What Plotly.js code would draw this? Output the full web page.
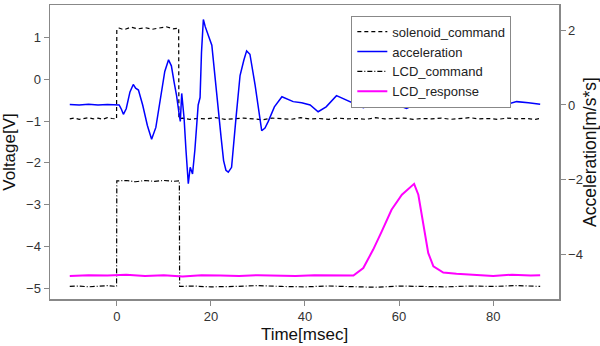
<!DOCTYPE html>
<html>
<head>
<meta charset="utf-8">
<script src="https://cdn.plot.ly/plotly-3.0.1.min.js"></script>
<style>html,body{margin:0;padding:0;background:#fff}#chart{width:600px;height:346px}</style>
</head>
<body>
<div id="chart"></div>
<script>
// solenoid_command (Voltage [V])
var solT = [-10,-9,-8,-7,-6,-5,-4,-3,-2,-1,-0.05,0,0.5,1.5,3,4.5,6,7.5,9,10.5,12,13.15,13.2,14,15.5,17,19,21,23,25,27,29,31,33,35,37,39,41,43,45,47,49,51,53,55,57,59,61,63,65,67,69,71,73,75,77,79,81,83,85,87,89,90];
var solV = [-0.95,-0.93,-0.96,-0.94,-0.92,-0.95,-0.93,-0.96,-0.92,-0.94,-0.95,1.2,1.22,1.18,1.24,1.2,1.23,1.19,1.22,1.25,1.2,1.22,-0.95,-0.93,-0.96,-0.94,-0.95,-0.92,-0.96,-0.94,-0.93,-0.95,-0.97,-0.93,-0.94,-0.96,-0.92,-0.95,-0.94,-0.96,-0.93,-0.95,-0.94,-0.96,-0.92,-0.95,-0.94,-0.93,-0.96,-0.94,-0.95,-0.93,-0.96,-0.94,-0.92,-0.95,-0.94,-0.96,-0.93,-0.95,-0.94,-0.96,-0.94];

// acceleration (m/s*s)
var accT = [-10,-8,-6,-4,-2,-1,0.5,1.0,1.4,2.0,2.8,3.5,4.0,4.6,5.5,6.5,7.4,8.3,9.2,10.2,11.0,11.6,12.2,12.7,13.2,13.5,13.8,14.3,14.7,15.2,15.6,16.1,16.6,17.3,17.7,18.0,18.4,18.8,19.5,20.2,21.2,21.6,22.2,22.7,23.2,23.7,24.4,25.3,26.2,27.0,27.6,28.3,29.4,30.8,31.5,32.2,33.5,35.1,36.3,37.5,39.3,41.1,42.8,44.5,46.7,49.5,52.4,55.6,58.5,61.6,64.0,66.6,68.7,70.8,73.3,75.8,78.3,80.7,83.0,85.0,87.5,90];
var accV = [0.01,0.0,0.02,0.0,0.01,0.0,0.0,-0.12,-0.25,-0.1,0.35,0.55,0.45,0.4,0.0,-0.55,-0.92,-0.6,0.15,0.9,1.21,1.05,0.6,0.26,-0.2,-0.44,0.31,-0.35,-1.2,-2.11,-1.67,-1.85,-1.2,0.0,0.2,1.4,2.29,2.1,1.85,1.6,0.35,-0.09,-0.9,-1.49,-1.75,-1.8,-1.67,-0.4,0.79,1.2,1.45,1.36,0.53,-0.69,-0.62,-0.44,-0.05,0.22,0.15,0.09,0.06,0.0,-0.18,-0.05,0.25,0.1,-0.07,0.09,0.05,-0.09,0.05,0.13,0.05,-0.04,0.02,0.09,0.04,-0.06,0.02,0.09,0.06,0.02];

// LCD_command (Voltage [V])
var lcdCT = [-10,-8,-6,-4,-2,-0.05,0,2,4,6,8,10,12,13.3,13.35,16,20,25,30,35,40,45,50,55,60,65,70,75,80,85,90];
var lcdCV = [-4.95,-4.94,-4.96,-4.95,-4.93,-4.95,-2.43,-2.42,-2.45,-2.42,-2.44,-2.42,-2.44,-2.43,-4.95,-4.94,-4.96,-4.95,-4.93,-4.95,-4.96,-4.94,-4.95,-4.97,-4.94,-4.95,-4.96,-4.94,-4.95,-4.93,-4.95];

// LCD_response (Voltage [V])
var lcdRT = [-10,-6,-2,2,6,10,14,18,22,26,30,34,38,42,46,50.3,52.4,54.5,56.3,58.4,60.6,62.3,63.2,64.1,65.2,66.2,67.3,69.4,72.2,76,80,84,88,90];
var lcdRV = [-4.7,-4.68,-4.69,-4.67,-4.7,-4.68,-4.71,-4.68,-4.69,-4.7,-4.68,-4.69,-4.7,-4.68,-4.69,-4.69,-4.51,-4.07,-3.64,-3.12,-2.76,-2.6,-2.5,-2.76,-3.52,-4.15,-4.47,-4.62,-4.65,-4.68,-4.7,-4.67,-4.69,-4.68];

var font = 'Liberation Sans, Arial, sans-serif';
var traces = [
  {x: solT, y: solV, name: 'solenoid_command', mode: 'lines', line: {color: '#000', width: 1.2, dash: '4px,3px'}, yaxis: 'y'},
  {x: accT, y: accV, name: 'acceleration', mode: 'lines', line: {color: '#0000ff', width: 1.5}, yaxis: 'y2'},
  {x: lcdCT, y: lcdCV, name: 'LCD_command', mode: 'lines', line: {color: '#000', width: 1.2, dash: '5px,2px,1px,2px'}, yaxis: 'y'},
  {x: lcdRT, y: lcdRV, name: 'LCD_response', mode: 'lines', line: {color: '#ff00ff', width: 2}, yaxis: 'y'}
];
var axcol = '#888';
var layout = {
  width: 600, height: 346,
  margin: {l: 50, r: 41, t: 5, b: 47},
  paper_bgcolor: '#fff', plot_bgcolor: '#fff',
  font: {family: font, size: 13, color: '#333'},
  showlegend: true,
  legend: {x: 0.592, y: 0.964, xanchor: 'left', yanchor: 'top', bordercolor: axcol, borderwidth: 1, bgcolor: '#fff', font: {family: font, size: 13, color: '#222'}, tracegroupgap: 0},
  xaxis: {range: [-14.2, 94], tickvals: [0,20,40,60,80], showgrid: false, zeroline: false, showline: true, mirror: true, linecolor: axcol, linewidth: 1.5, ticks: 'outside', ticklen: 5, tickcolor: axcol,
    title: {text: 'Time[msec]', font: {size: 17, color: '#111'}, standoff: 5}},
  yaxis: {range: [-5.25, 1.77], tickvals: [-5,-4,-3,-2,-1,0,1], showgrid: false, zeroline: false, showline: true, linecolor: axcol, linewidth: 1.5, ticks: 'outside', ticklen: 5, tickcolor: axcol,
    title: {text: 'Voltage[V]', font: {size: 17, color: '#111'}, standoff: 9}},
  yaxis2: {range: [-5.20, 2.68], tickvals: [-4,-2,0,2], overlaying: 'y', side: 'right', showgrid: false, zeroline: false, showline: true, linecolor: axcol, linewidth: 1.5, ticks: 'outside', ticklen: 5, tickcolor: axcol,
    title: {text: 'Acceleration[m/s*s]', font: {size: 17.5, color: '#111'}, standoff: 8}}
};
Plotly.newPlot('chart', traces, layout, {displayModeBar: false, staticPlot: true});
</script>
</body>
</html>
